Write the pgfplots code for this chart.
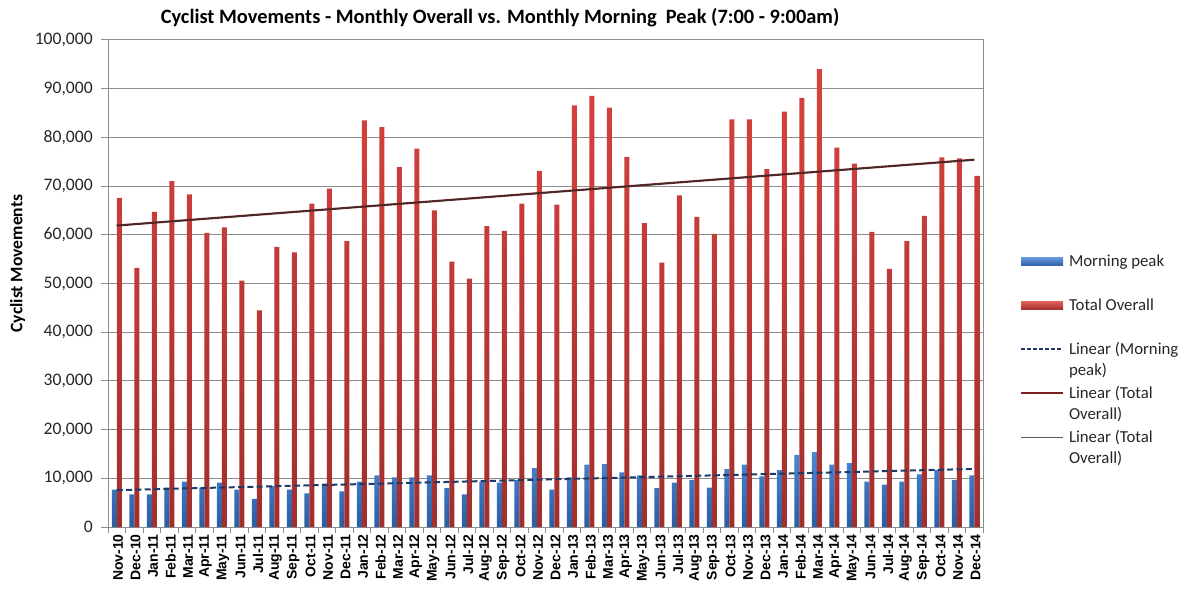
\documentclass[border=0pt]{standalone}
\usepackage{pgfplots}
\pgfplotsset{compat=1.18}
\usepackage{pgfplotstable}
\usepackage{fontspec}
\setmainfont{Carlito}
\newfontfamily\arialfont{Liberation Sans}
\definecolor{bluetop}{HTML}{4A87D6}
\definecolor{bluebot}{HTML}{2B5EA3}
\definecolor{redtop}{HTML}{D9423E}
\definecolor{redbot}{HTML}{A12F2C}
\definecolor{gridgray}{HTML}{8C8C8C}
\definecolor{txtgray}{HTML}{262626}
\definecolor{trendblue}{HTML}{1F3A66}
\definecolor{trendred}{HTML}{7A2020}
\definecolor{trendgray}{HTML}{303030}
\pgfplotstableread{
x mp tot
0 7700 67600
1 6700 53200
2 6700 64700
3 8100 71000
4 9300 68300
5 8100 60400
6 9100 61500
7 7700 50600
8 5800 44500
9 8400 57500
10 7700 56400
11 6900 66400
12 8900 69500
13 7300 58700
14 9300 83500
15 10600 82100
16 10200 73900
17 10200 77700
18 10600 65000
19 8000 54500
20 6700 51000
21 9300 61800
22 9100 60800
23 9600 66400
24 12100 73100
25 7700 66200
26 10200 86600
27 12800 88500
28 12900 86100
29 11200 76000
30 10600 62400
31 8000 54300
32 9100 68100
33 9700 63700
34 8100 60200
35 11900 83700
36 12800 83700
37 10400 73500
38 11700 85300
39 14800 88100
40 15400 94000
41 12800 77900
42 13100 74600
43 9300 60600
44 8700 53000
45 9300 58700
46 10800 63900
47 11700 75900
48 9700 75700
49 10600 72100
}\datatable
\begin{document}
\begin{tikzpicture}
\path[use as bounding box] (0,0) rectangle (888pt,441.75pt);
\node[font=\bfseries\fontsize{15.3}{17}\selectfont, text=black] at (375pt,428.25pt) {Cyclist Movements - Monthly Overall vs. Monthly Morning\ \ Peak (7:00 - 9:00am)};
\begin{axis}[
  at={(81pt,46.5pt)}, anchor=south west,
  scale only axis, width=656.25pt, height=365.25pt,
  xmin=-0.5, xmax=49.5, ymin=0, ymax=100000,
  ybar=0pt, bar width=3.75pt,
  xtick={0,...,49},
  xticklabels={Nov-10,Dec-10,Jan-11,Feb-11,Mar-11,Apr-11,May-11,Jun-11,Jul-11,Aug-11,Sep-11,Oct-11,Nov-11,Dec-11,Jan-12,Feb-12,Mar-12,Apr-12,May-12,Jun-12,Jul-12,Aug-12,Sep-12,Oct-12,Nov-12,Dec-12,Jan-13,Feb-13,Mar-13,Apr-13,May-13,Jun-13,Jul-13,Aug-13,Sep-13,Oct-13,Nov-13,Dec-13,Jan-14,Feb-14,Mar-14,Apr-14,May-14,Jun-14,Jul-14,Aug-14,Sep-14,Oct-14,Nov-14,Dec-14},
  minor xtick={-0.5,0.5,...,49.5},
  xtick style={draw=none},
  minor x tick style={draw=gridgray, line width=0.75pt},
  ytick={0,10000,...,100000},
  ytick style={draw=gridgray, line width=0.75pt},
  tick align=outside, xtick pos=bottom, ytick pos=left,
  major tick length=5.25pt, minor tick length=4.5pt,
  ymajorgrids, major grid style={draw=gridgray, line width=0.75pt},
  axis line style={draw=gridgray, line width=0.75pt},
  scaled y ticks=false,
  /pgf/number format/.cd, fixed, 1000 sep={,}, assume math mode=true,
  /pgfplots/.cd,
  yticklabel style={font=\fontsize{13.2}{15}\selectfont, text=txtgray, inner sep=0pt, xshift=-6pt},
  xticklabel style={rotate=90, anchor=east, inner sep=0pt, yshift=-1pt, font=\arialfont\bfseries\fontsize{10.5}{12}\selectfont, text=black},
  ylabel={Cyclist Movements},
  every axis y label/.style={at={(axis description cs:-0.1034,0.541)}, rotate=90, anchor=center, font=\bfseries\fontsize{13.2}{15}\selectfont, text=black},
  legend style={at={(axis description cs:1.0423,0.566)}, anchor=north west, draw=none, fill=none,
    inner sep=0pt, outer sep=0pt, row sep=1.55pt, column sep=3.75pt,
    font=\fontsize{12.6}{15.75}\selectfont, text=txtgray,
    cells={anchor=base west}, nodes={inner sep=0pt, text height=11pt, text depth=20.45pt}},
]
\addplot[draw=none, top color=bluetop, bottom color=bluebot,
  legend image code/.code={\fill[top color=bluetop!85!white, bottom color=bluebot] (0pt,0.3pt) rectangle (31.5pt,6.3pt);}]
  table[x=x, y=mp] {\datatable};
\addlegendentry{\parbox[t]{110pt}{\raggedright Morning peak\strut}}
\addplot[draw=none, top color=redtop, bottom color=redbot,
  legend image code/.code={\fill[top color=redtop!85!white, bottom color=redbot] (0pt,0.3pt) rectangle (31.5pt,6.3pt);}]
  table[x=x, y=tot] {\datatable};
\addlegendentry{\parbox[t]{110pt}{\raggedright Total Overall\strut}}
\addplot[sharp plot, no marks, draw=trendblue, line width=1.5pt, dash pattern=on 4.5pt off 2.5pt,
  legend image code/.code={\draw[draw=trendblue, line width=1pt, dash pattern=on 3pt off 1.5pt] (0pt,3.75pt) -- (31.5pt,3.75pt);}]
  table[x=x, y={create col/linear regression={y=mp}}] {\datatable};
\addlegendentry{\parbox[t]{110pt}{\raggedright Linear (Morning\strut\\peak)\strut}}
\addplot[sharp plot, no marks, draw=trendred, line width=1.6pt,
  legend image code/.code={\draw[draw=trendred, line width=1.5pt] (0pt,3.75pt) -- (31.5pt,3.75pt);}]
  table[x=x, y={create col/linear regression={y=tot}}] {\datatable};
\addlegendentry{\parbox[t]{110pt}{\raggedright Linear (Total\strut\\Overall)\strut}}
\addplot[sharp plot, no marks, draw=trendgray, line width=0.75pt,
  legend image code/.code={\draw[draw=trendgray!80!white, line width=0.75pt] (0pt,3.75pt) -- (31.5pt,3.75pt);}]
  table[x=x, y={create col/linear regression={y=tot}}] {\datatable};
\addlegendentry{\parbox[t]{110pt}{\raggedright Linear (Total\strut\\Overall)\strut}}
\end{axis}
\end{tikzpicture}
\end{document}
